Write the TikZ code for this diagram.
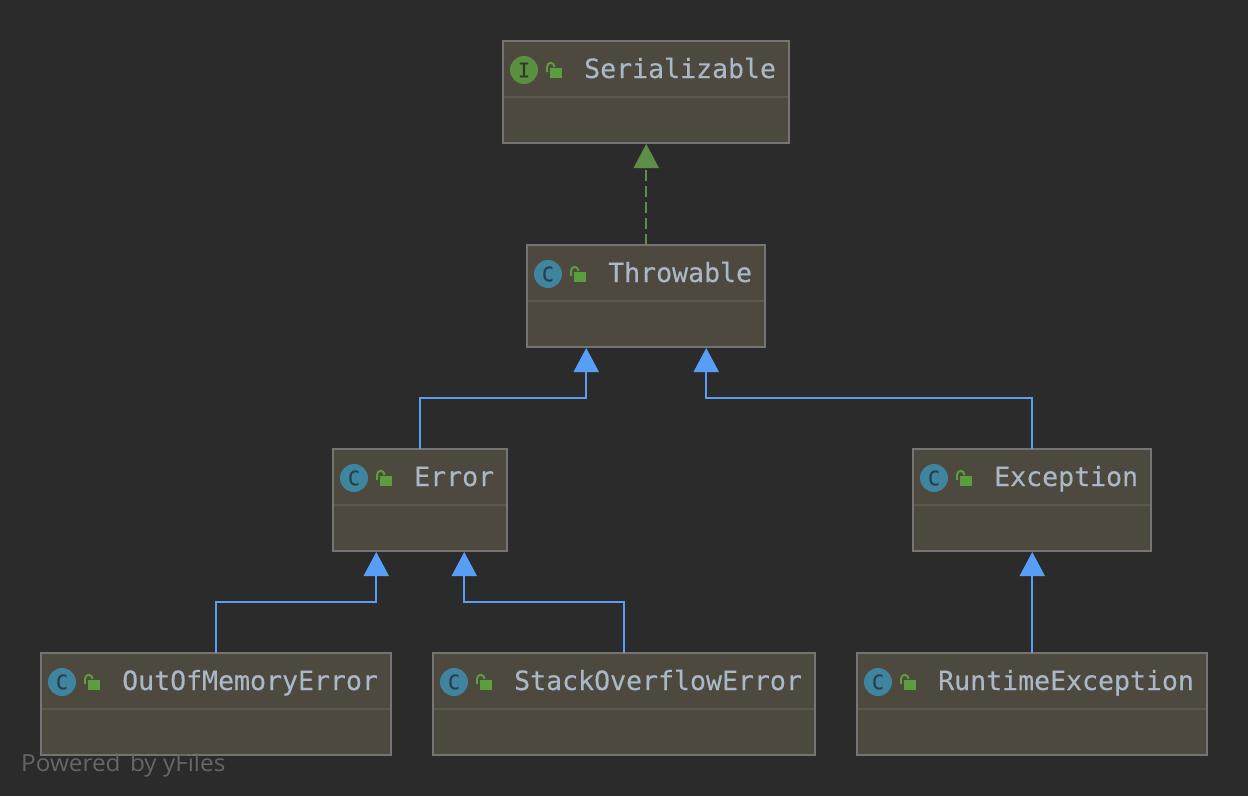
\documentclass[tikz,border=0pt]{standalone}
\usepackage{fontspec}
\usetikzlibrary{arrows.meta,calc}
\newfontfamily\codefont[FakeBold=0.25]{DejaVu Sans Mono}
\newfontfamily\wmfont{Open Sans}
\definecolor{bgc}{HTML}{2B2B2B}
\definecolor{boxfill}{HTML}{4E493E}
\definecolor{boxline}{HTML}{747472}
\definecolor{divline}{HTML}{5B5850}
\definecolor{txt}{HTML}{A9B7C6}
\definecolor{classc}{HTML}{40859F}
\definecolor{classl}{HTML}{26404C}
\definecolor{ifacec}{HTML}{5B8F42}
\definecolor{ifacel}{HTML}{2E3A28}
\definecolor{lockc}{HTML}{5A9E3E}
\definecolor{extc}{HTML}{589DF6}
\definecolor{implc}{HTML}{5E8F49}
\definecolor{wmc}{HTML}{666666}
\tikzset{
  umlbox/.style={draw=boxline,fill=boxfill,line width=2pt,inner sep=0pt,outer sep=0pt,minimum height=102pt},
  divider/.style={draw=divline,line width=1.5pt},
  icondisc/.style={circle,inner sep=0pt,outer sep=0pt,minimum size=28pt},
  iconletter/.style={font=\codefont\fontsize{20}{20}\selectfont,inner sep=0pt},
  title/.style={anchor=base west,inner sep=0pt,text=txt,font=\codefont\fontsize{26.55}{30}\selectfont},
  extends/.style={draw=extc,line width=2pt,-{Triangle[length=24pt,width=25pt,color=extc]}},
  implements/.style={draw=implc,line width=2pt,dash pattern=on 11pt off 5pt,-{Triangle[length=24pt,width=25pt,color=implc]}}
}
% name, left, top, right, disc colour, letter colour, letter, title
\newcommand\umlclass[8]{%
  \node[umlbox,minimum width=#4pt-#2pt,anchor=north west] (#1) at (#2,#3) {};
  \draw[divider] ($(#1.north west)+(1,56)$) -- ($(#1.north east)+(-1,56)$);
  \node[icondisc,fill=#5] (#1disc) at ($(#1.north west)+(21,29)$) {};
  \node[iconletter,text=#6] (#1letter) at (#1disc) {#7};
  \fill[lockc] ($(#1.north west)+(47,27)$) rectangle ($(#1.north west)+(59,37)$);
  \draw[lockc,line width=2pt] ($(#1.north west)+(44,31)$) -- ($(#1.north west)+(44,26)$)
    .. controls ($(#1.north west)+(44,20.5)$) and ($(#1.north west)+(51.5,20.5)$) .. ($(#1.north west)+(51.5,26)$);
  \node[title] (#1title) at ($(#1.north west)+(81,37)$) {#8};
}
\begin{document}
\begin{tikzpicture}[x=1pt,y=-1pt]
\useasboundingbox[fill=bgc] (0,0) rectangle (1248,796);
\umlclass{ser}{503}{41}{789}{ifacec}{ifacel}{I}{Serializable}
\umlclass{thr}{527}{245}{765}{classc}{classl}{C}{Throwable}
\umlclass{err}{333}{449}{507}{classc}{classl}{C}{Error}
\umlclass{exc}{913}{449}{1151}{classc}{classl}{C}{Exception}
\umlclass{oom}{41}{653}{391}{classc}{classl}{C}{OutOfMemoryError}
\umlclass{sof}{433}{653}{815}{classc}{classl}{C}{StackOverflowError}
\umlclass{rte}{857}{653}{1207}{classc}{classl}{C}{RuntimeException}
% arrow tips, just under the target boxes
\coordinate (serIn) at ($(ser.south)+(0.25,1)$);
\coordinate (thrInL) at ($(thr.south)+(-59.75,1)$);
\coordinate (thrInR) at ($(thr.south)+(60.25,1)$);
\coordinate (errInL) at ($(err.south)+(-43.75,1)$);
\coordinate (errInR) at ($(err.south)+(44.25,1)$);
\coordinate (excIn) at ($(exc.south)+(0.25,1)$);
\coordinate (thrOut) at ($(thr.north)+(0.25,0)$);
\coordinate (errOut) at ($(err.north)+(0.25,0)$);
\coordinate (excOut) at ($(exc.north)+(0.25,0)$);
\coordinate (oomOut) at ($(oom.north)+(0.25,0)$);
\coordinate (sofOut) at ($(sof.north)+(0.25,0)$);
\coordinate (rteOut) at ($(rte.north)+(0.25,0)$);
\draw[implements] (thrOut) -- (serIn);
\draw[extends] (errOut) |- ($(thrInL)+(0,50)$) -- (thrInL);
\draw[extends] (excOut) |- ($(thrInR)+(0,50)$) -- (thrInR);
\draw[extends] (oomOut) |- ($(errInL)+(0,50)$) -- (errInL);
\draw[extends] (sofOut) |- ($(errInR)+(0,50)$) -- (errInR);
\draw[extends] (rteOut) -- (excIn);
\node[anchor=base west,inner sep=0pt,text=wmc,font=\wmfont\fontsize{23.5}{26}\selectfont,xscale=1.035] (wm) at (21,771.5) {Powered\hspace{3pt} by yFiles};
\end{tikzpicture}
\end{document}
